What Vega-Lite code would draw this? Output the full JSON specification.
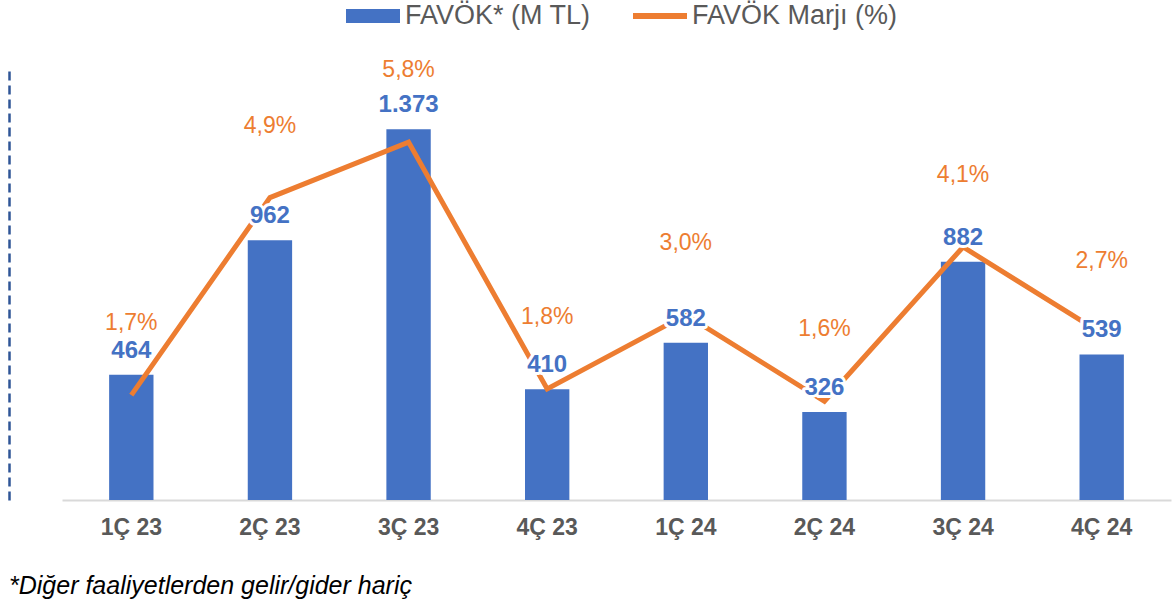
{
  "$schema": "https://vega.github.io/schema/vega-lite/v6.json",
  "width": 1109,
  "height": 432,
  "autosize": {"type": "none"},
  "padding": {"left": 62, "top": 68, "right": 4, "bottom": 106},
  "background": "white",
  "data": {
    "values": [
      {"q": "1Ç 23", "ebitda": 464, "margin": 0.017},
      {"q": "2Ç 23", "ebitda": 962, "margin": 0.049},
      {"q": "3Ç 23", "ebitda": 1373, "margin": 0.058},
      {"q": "4Ç 23", "ebitda": 410, "margin": 0.018},
      {"q": "1Ç 24", "ebitda": 582, "margin": 0.030},
      {"q": "2Ç 24", "ebitda": 326, "margin": 0.016},
      {"q": "3Ç 24", "ebitda": 882, "margin": 0.041},
      {"q": "4Ç 24", "ebitda": 539, "margin": 0.027}
    ]
  },
  "title": {
    "text": "*Diğer faaliyetlerden gelir/gider hariç",
    "orient": "bottom",
    "anchor": "start",
    "frame": "bounds",
    "font": "Liberation Sans",
    "fontSize": 25,
    "fontStyle": "italic",
    "fontWeight": "normal",
    "color": "#000000",
    "offset": 35
  },
  "encoding": {
    "x": {
      "field": "q",
      "type": "nominal",
      "sort": null,
      "scale": {"paddingInner": 0, "paddingOuter": 0},
      "axis": {
        "title": null,
        "labelAngle": 0,
        "ticks": false,
        "labelPadding": 16,
        "labelFont": "Liberation Sans",
        "labelFontSize": 23,
        "labelFontWeight": "bold",
        "labelColor": "#595959",
        "domainColor": "#D9D9D9",
        "domainWidth": 2
      }
    }
  },
  "layer": [
    {
      "mark": {"type": "bar", "width": {"band": 0.32}, "color": "#4472C4"},
      "encoding": {
        "y": {
          "field": "ebitda",
          "type": "quantitative",
          "scale": {"domain": [0, 1600], "nice": false},
          "axis": {
            "title": null,
            "labels": false,
            "ticks": false,
            "grid": false,
            "domain": true,
            "domainColor": "#2F5597",
            "domainDash": [9, 5],
            "domainWidth": 2.5,
            "offset": 53
          }
        },
        "color": {
          "datum": "FAVÖK* (M TL)",
          "scale": {"domain": ["FAVÖK* (M TL)", "FAVÖK Marjı (%)"], "range": ["#4472C4", "#ED7D31"]},
          "legend": {
            "orient": "none",
            "legendX": 284,
            "legendY": -79,
            "direction": "horizontal",
            "title": null,
            "symbolSize": 2916,
            "labelFont": "Liberation Sans",
            "labelFontSize": 27,
            "labelColor": "#595959",
            "labelOffset": 5,
            "columnPadding": 42,
            "labelLimit": 400,
            "encode": {
              "symbols": {
                "update": {
                  "shape": [
                    {"test": "datum.value === 'FAVÖK* (M TL)'", "value": "M-1,-0.26H1V0.26H-1Z"},
                    {"value": "M-1,-0.11H1V0.11H-1Z"}
                  ],
                  "fill": {"scale": "color", "field": "value"},
                  "stroke": {"value": "transparent"},
                  "strokeWidth": {"value": 0},
                  "opacity": {"value": 1},
                  "fillOpacity": {"value": 1}
                }
              }
            }
          }
        }
      }
    },
    {
      "mark": {"type": "line", "strokeWidth": 5},
      "encoding": {
        "y": {"field": "margin", "type": "quantitative", "scale": {"domain": [0, 0.07], "nice": false}, "axis": null},
        "color": {"datum": "FAVÖK Marjı (%)"}
      }
    },
    {
      "mark": {"type": "text", "font": "Liberation Sans", "fontSize": 24, "fontWeight": "bold", "baseline": "middle", "dy": -24, "stroke": "white", "strokeWidth": 6, "fill": "white", "strokeJoin": "round"},
      "encoding": {
        "y": {"field": "ebitda", "type": "quantitative", "scale": {"domain": [0, 1600], "nice": false}, "axis": null},
        "text": {"field": "ebitda", "type": "quantitative", "format": ",d"}
      }
    },
    {
      "mark": {"type": "text", "font": "Liberation Sans", "fontSize": 23, "baseline": "middle", "dy": -72, "stroke": "white", "strokeWidth": 6, "fill": "white", "strokeJoin": "round"},
      "encoding": {
        "y": {"field": "margin", "type": "quantitative", "scale": {"domain": [0, 0.07], "nice": false}, "axis": null},
        "text": {"field": "margin", "type": "quantitative", "format": ".1%"}
      }
    },
    {
      "mark": {"type": "text", "font": "Liberation Sans", "fontSize": 24, "fontWeight": "bold", "baseline": "middle", "dy": -24, "color": "#4472C4"},
      "encoding": {
        "y": {"field": "ebitda", "type": "quantitative", "scale": {"domain": [0, 1600], "nice": false}, "axis": null},
        "text": {"field": "ebitda", "type": "quantitative", "format": ",d"}
      }
    },
    {
      "mark": {"type": "text", "font": "Liberation Sans", "fontSize": 23, "baseline": "middle", "dy": -72, "color": "#ED7D31"},
      "encoding": {
        "y": {"field": "margin", "type": "quantitative", "scale": {"domain": [0, 0.07], "nice": false}, "axis": null},
        "text": {"field": "margin", "type": "quantitative", "format": ".1%"}
      }
    }
  ],
  "resolve": {"scale": {"y": "independent"}},
  "config": {
    "view": {"stroke": null},
    "locale": {
      "number": {"decimal": ",", "thousands": ".", "grouping": [3], "currency": ["", " TL"]}
    }
  }
}
